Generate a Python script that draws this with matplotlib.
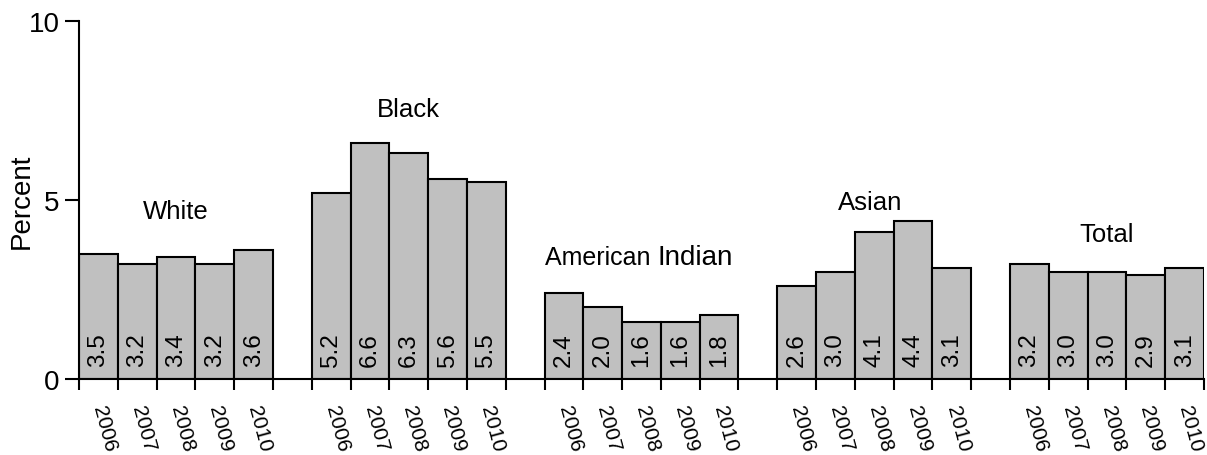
import matplotlib.pyplot as plt
import numpy as np

plt.rcParams['font.family'] = ['Liberation Sans', 'DejaVu Sans']

groups = ['White', 'Black', 'American Indian', 'Asian', 'Total']
years = ['2006', '2007', '2008', '2009', '2010']
values = [
    [3.5, 3.2, 3.4, 3.2, 3.6],
    [5.2, 6.6, 6.3, 5.6, 5.5],
    [2.4, 2.0, 1.6, 1.6, 1.8],
    [2.6, 3.0, 4.1, 4.4, 3.1],
    [3.2, 3.0, 3.0, 2.9, 3.1],
]
# where the group names sit (x in bar units, y in percent)
label_pos = [(2.5, 4.7), (8.5, 7.55), (14.9, 3.4), (20.4, 4.95), (26.5, 4.05)]

fig = plt.figure(figsize=(12.07, 4.56), dpi=100)
ax = fig.add_axes([79 / 1207, 76 / 456, (1204 - 79) / 1207, (380 - 22) / 456])

centers = []
edges = []
for g, vals in enumerate(values):
    x = g * 6 + np.arange(len(vals)) + 0.5
    ax.bar(x, vals, width=1.0, color='#c0c0c0', edgecolor='black', linewidth=1.5, zorder=2)
    for xi, v in zip(x, vals):
        ax.text(xi, 0.35, f'{v:.1f}', rotation=90, ha='center', va='bottom', fontsize=17.5, zorder=3)
    centers.extend(x)
    edges.extend(list(g * 6 + np.arange(len(vals) + 1)))

for name, (lx, ly) in zip(groups, label_pos):
    if name == 'American Indian':
        # the two words are set in slightly different sizes in the original
        ax.text(lx, ly, 'American ', ha='right', va='center', fontsize=18)
        ax.text(lx, ly, 'Indian', ha='left', va='center', fontsize=20)
    else:
        ax.text(lx, ly, name, ha='center', va='center', fontsize=18.5)

ax.set_xlim(0, 29)
ax.set_ylim(0, 10)
ax.set_yticks([0, 5, 10])
ax.tick_params(axis='y', direction='out', length=10, width=1.5, labelsize=20, pad=4)
ax.set_ylabel('Percent', fontsize=20, va='center')
ax.yaxis.set_label_coords(-0.0507, 0.5)

ax.set_xticks(edges)
ax.set_xticklabels([])
ax.tick_params(axis='x', which='major', direction='out', length=8, width=1.5)
ax.set_xticks(centers, minor=True)
ax.set_xticklabels(years * len(groups), minor=True)
ax.tick_params(axis='x', which='minor', length=0, pad=19, labelsize=15)
for lab in ax.get_xticklabels(minor=True):
    lab.set_rotation(-75)
    lab.set_rotation_mode('anchor')
    lab.set_ha('left')
    lab.set_va('center')

for s in ['top', 'right']:
    ax.spines[s].set_visible(False)
ax.spines['left'].set_linewidth(1.5)
ax.spines['bottom'].set_linewidth(1.5)

fig.savefig('out.png', dpi=100)
